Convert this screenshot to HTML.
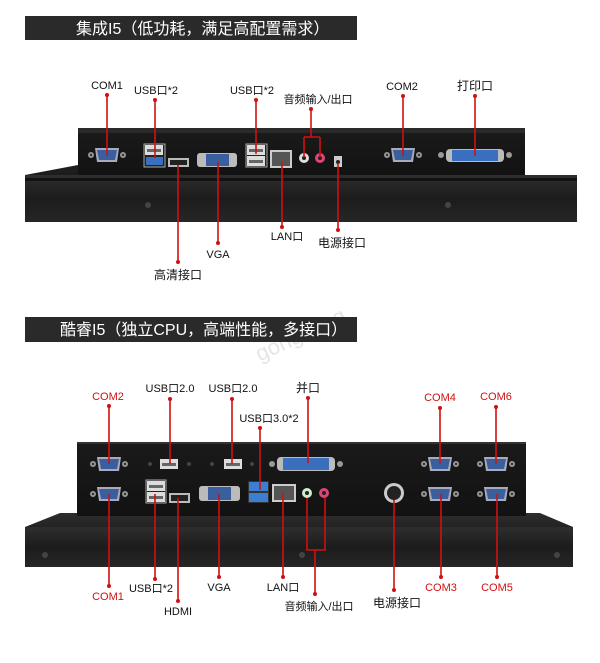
<!DOCTYPE html>
<html><head><meta charset="utf-8"><style>
html,body{margin:0;padding:0;background:#fff;width:600px;height:663px;overflow:hidden}
svg text{font-family:"Liberation Sans","Noto Sans CJK SC",sans-serif}
</style></head><body>
<svg width="600" height="663" viewBox="0 0 600 663" xmlns="http://www.w3.org/2000/svg">
<defs>
<linearGradient id="pn" x1="0" y1="0" x2="0" y2="1"><stop offset="0" stop-color="#2e2e2e"/><stop offset=".5" stop-color="#1c1c1c"/><stop offset="1" stop-color="#262626"/></linearGradient>
<linearGradient id="bx" x1="0" y1="0" x2="0" y2="1"><stop offset="0" stop-color="#1a1a1a"/><stop offset="1" stop-color="#121212"/></linearGradient>
<g id="db9"><circle cx="-16" cy="0" r="3" fill="#999"/><circle cx="16" cy="0" r="3" fill="#999"/><circle cx="-16" cy="0" r="1.2" fill="#333"/><circle cx="16" cy="0" r="1.2" fill="#333"/><path d="M-12,-7 H12 L10,7 H-10 Z" fill="#aab" /><path d="M-10,-5 H10 L8,5 H-8 Z" fill="#3a5f9e"/></g>
<g id="usbw"><rect x="-9" y="-5" width="18" height="10" fill="#ddd"/><rect x="-7" y="-1" width="14" height="3" fill="#666"/></g>
</defs>

<!-- TOP SECTION -->
<rect x="25" y="16" width="332" height="24" fill="#2a2a2a"/>
<text x="76" y="34" fill="#fff" font-size="16">集成I5（低功耗，满足高配置需求）</text>

<polygon points="25,175 78,165 78,132 525,128 525,175 577,175 577,222 25,222" fill="url(#pn)"/>
<rect x="78" y="132" width="447" height="43" fill="url(#bx)"/>
<rect x="78" y="128" width="447" height="5" fill="#2a2a2a"/>
<rect x="25" y="175" width="552" height="47" fill="url(#pn)"/>
<rect x="25" y="178" width="552" height="3" fill="#111"/>
<circle cx="148" cy="205" r="3" fill="#444"/><circle cx="448" cy="205" r="3" fill="#444"/>

<use href="#db9" x="107" y="155"/>
<rect x="144" y="144" width="21" height="23" fill="#222" stroke="#aaa"/>
<use href="#usbw" x="154" y="150"/><rect x="146" y="157" width="17" height="8" fill="#3a6fc0"/>
<rect x="168" y="158" width="21" height="9" fill="#bbb"/><rect x="170" y="160" width="17" height="5" fill="#222"/>
<rect x="197" y="153" width="40" height="14" rx="3" fill="#bbb"/><rect x="206" y="154" width="23" height="12" fill="#3a5f9e"/>
<rect x="246" y="144" width="21" height="23" fill="#222" stroke="#aaa"/>
<use href="#usbw" x="256" y="150"/><use href="#usbw" x="256" y="161"/>
<rect x="270" y="150" width="22" height="18" fill="#ccc"/><rect x="272" y="152" width="18" height="14" fill="#555"/>
<circle cx="304" cy="158" r="5" fill="#ddd"/><circle cx="304" cy="158" r="2" fill="#222"/>
<circle cx="320" cy="158" r="5" fill="#d47"/><circle cx="320" cy="158" r="2" fill="#222"/>
<rect x="334" y="156" width="8" height="11" fill="#ccc"/><circle cx="338" cy="162" r="2" fill="#222"/>
<use href="#db9" x="403" y="155"/>
<rect x="446" y="149" width="58" height="13" rx="4" fill="#bbb"/><rect x="452" y="150" width="46" height="11" fill="#3a6fc0"/>
<circle cx="441" cy="155" r="3" fill="#999"/><circle cx="509" cy="155" r="3" fill="#999"/>

<g stroke="#d01010" stroke-width="1.6" fill="none">
<path d="M107,95 V156"/><path d="M155,100 V158"/><path d="M256,100 V154"/>
<path d="M311,109 V137 M304,137 H320 M304,137 V157 M320,137 V157"/>
<path d="M403,96 V156"/><path d="M475,96 V156"/>
<path d="M178,165 V262"/><path d="M218,162 V243"/><path d="M282,162 V227"/><path d="M338,163 V230"/>
</g>
<g fill="#d01010">
<circle cx="107" cy="95" r="2"/><circle cx="155" cy="100" r="2"/><circle cx="256" cy="100" r="2"/><circle cx="311" cy="109" r="2"/>
<circle cx="403" cy="96" r="2"/><circle cx="475" cy="96" r="2"/>
<circle cx="178" cy="262" r="2"/><circle cx="218" cy="243" r="2"/><circle cx="282" cy="227" r="2"/><circle cx="338" cy="230" r="2"/>
</g>
<g font-size="11" fill="#111" text-anchor="middle">
<text x="107" y="89">COM1</text><text x="156" y="94">USB口*2</text><text x="252" y="94">USB口*2</text>
<text x="318" y="103">音频输入/出口</text><text x="402" y="90">COM2</text><text x="475" y="90" font-size="12">打印口</text>
<text x="178" y="279" font-size="12">高清接口</text><text x="218" y="258">VGA</text><text x="287" y="240">LAN口</text><text x="342" y="247" font-size="12">电源接口</text>
</g>

<text x="245" y="345" font-size="22" fill="#ccc" opacity=".5" transform="rotate(-25 290 320)">gongkong</text>

<!-- BOTTOM SECTION -->
<rect x="25" y="317" width="332" height="25" fill="#2a2a2a"/>
<text x="60" y="335" fill="#fff" font-size="16">酷睿I5（独立CPU，高端性能，多接口）</text>

<polygon points="25,527 60,513 540,513 573,527 573,558 25,558" fill="url(#pn)"/>
<rect x="25" y="527" width="548" height="40" fill="url(#pn)"/>
<rect x="77" y="442" width="449" height="74" fill="url(#bx)"/>
<rect x="77" y="442" width="449" height="2" fill="#333"/>
<circle cx="45" cy="555" r="3" fill="#444"/><circle cx="302" cy="555" r="3" fill="#444"/><circle cx="557" cy="555" r="3" fill="#444"/>

<use href="#db9" x="109" y="464"/><use href="#db9" x="109" y="494"/>
<use href="#usbw" x="169" y="464"/><use href="#usbw" x="233" y="464"/>
<circle cx="150" cy="464" r="2" fill="#444"/><circle cx="189" cy="464" r="2" fill="#444"/><circle cx="212" cy="464" r="2" fill="#444"/><circle cx="252" cy="464" r="2" fill="#444"/>
<rect x="277" y="457" width="58" height="14" rx="4" fill="#bbb"/><rect x="283" y="458" width="46" height="12" fill="#3a6fc0"/>
<circle cx="272" cy="464" r="3" fill="#999"/><circle cx="340" cy="464" r="3" fill="#999"/>
<use href="#db9" x="440" y="464"/><use href="#db9" x="496" y="464"/>
<rect x="146" y="480" width="20" height="23" fill="#222" stroke="#aaa"/>
<use href="#usbw" x="156" y="486"/><use href="#usbw" x="156" y="497"/>
<rect x="169" y="493" width="21" height="10" fill="#bbb"/><rect x="171" y="495" width="17" height="6" fill="#222"/>
<rect x="199" y="486" width="41" height="15" rx="3" fill="#bbb"/><rect x="208" y="487" width="23" height="13" fill="#3a5f9e"/>
<rect x="248" y="481" width="21" height="22" fill="#333"/><rect x="249" y="482" width="19" height="9" fill="#3a7fd0"/><rect x="249" y="493" width="19" height="9" fill="#3a7fd0"/>
<rect x="272" y="484" width="24" height="18" fill="#ccc"/><rect x="274" y="486" width="20" height="14" fill="#555"/>
<circle cx="307" cy="493" r="5" fill="#cec"/><circle cx="307" cy="493" r="2" fill="#222"/>
<circle cx="324" cy="493" r="5" fill="#d47"/><circle cx="324" cy="493" r="2" fill="#222"/>
<circle cx="394" cy="493" r="10" fill="#ccc"/><circle cx="394" cy="493" r="7" fill="#222"/>
<use href="#db9" x="440" y="494"/><use href="#db9" x="496" y="494"/>

<g stroke="#d01010" stroke-width="1.6" fill="none">
<path d="M109,406 V464"/><path d="M170,399 V464"/><path d="M232,399 V464"/><path d="M308,398 V463"/><path d="M260,428 V490"/>
<path d="M440,408 V464"/><path d="M496,407 V464"/>
<path d="M109,494 V586"/><path d="M155,494 V579"/><path d="M178,498 V601"/><path d="M219,494 V577"/><path d="M283,493 V577"/>
<path d="M307,498 V550 H325 V498 M315,550 V594"/>
<path d="M394,500 V590"/><path d="M441,494 V577"/><path d="M497,494 V577"/>
</g>
<g fill="#d01010">
<circle cx="109" cy="406" r="2"/><circle cx="170" cy="399" r="2"/><circle cx="232" cy="399" r="2"/><circle cx="308" cy="398" r="2"/><circle cx="260" cy="428" r="2"/>
<circle cx="440" cy="408" r="2"/><circle cx="496" cy="407" r="2"/>
<circle cx="109" cy="586" r="2"/><circle cx="155" cy="579" r="2"/><circle cx="178" cy="601" r="2"/><circle cx="219" cy="577" r="2"/><circle cx="283" cy="577" r="2"/>
<circle cx="315" cy="594" r="2"/><circle cx="394" cy="590" r="2"/><circle cx="441" cy="577" r="2"/><circle cx="497" cy="577" r="2"/>
</g>
<g font-size="11" fill="#d01010" text-anchor="middle">
<text x="108" y="400">COM2</text><text x="440" y="401">COM4</text><text x="496" y="400">COM6</text>
<text x="108" y="600">COM1</text><text x="441" y="591">COM3</text><text x="497" y="591">COM5</text>
</g>
<g font-size="11" fill="#111" text-anchor="middle">
<text x="170" y="392">USB口2.0</text><text x="233" y="392">USB口2.0</text><text x="308" y="392" font-size="12">并口</text>
<text x="269" y="422">USB口3.0*2</text>
<text x="151" y="592">USB口*2</text><text x="178" y="615">HDMI</text><text x="219" y="591">VGA</text><text x="283" y="591">LAN口</text>
<text x="319" y="610">音频输入/出口</text><text x="397" y="607" font-size="12">电源接口</text>
</g>
</svg>
</body></html>
